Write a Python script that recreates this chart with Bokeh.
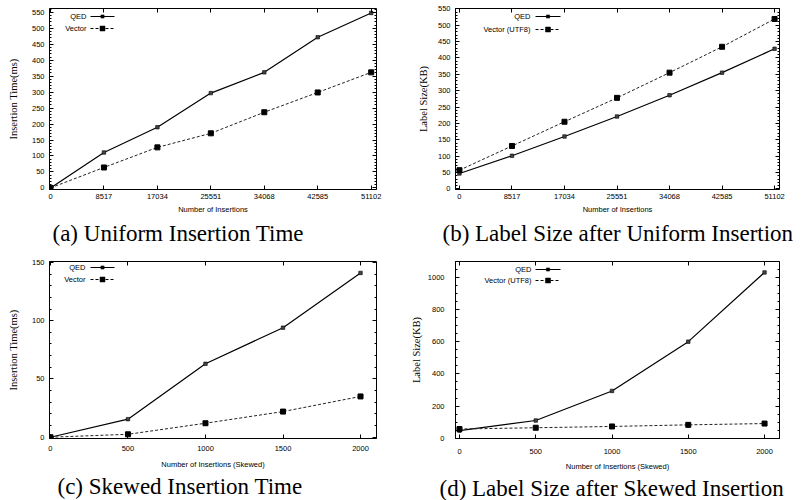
from bokeh.plotting import figure
from bokeh.models import (Range1d, LinearAxis, FixedTicker, SingleIntervalTicker,
                          Title, Label, Arrow, BoxAnnotation)
from bokeh.layouts import gridplot
from bokeh.embed import file_html
from bokeh.resources import INLINE

# ---------------- data ----------------
x_uniform = [0, 8517, 17034, 25551, 34068, 42585, 51102]
time_qed_uniform = [0, 111, 190, 297, 362, 472, 548]
time_vec_uniform = [0, 64, 127, 171, 237, 299, 362]
size_qed_uniform = [47, 101, 160, 221, 286, 355, 428]
size_vec_uniform = [57, 131, 205, 278, 355, 434, 519]

x_skewed = [0, 500, 1000, 1500, 2000]
time_qed_skewed = [0, 15.5, 63, 94, 141]
time_vec_skewed = [0, 2.5, 12, 22, 35]
size_qed_skewed = [47, 110, 294, 601, 1032]
size_vec_skewed = [57, 65, 73, 83, 91]

SANS = "Liberation Sans"
SERIF = "Liberation Serif"


def style_axis(ax, standoff, label_standoff=6, hidden=False):
    ax.axis_line_color = None if hidden else "black"
    ax.major_tick_in = 4
    ax.major_tick_out = 0
    ax.minor_tick_in = 2
    ax.minor_tick_out = 0
    ax.major_tick_line_color = "black"
    ax.minor_tick_line_color = "black"
    ax.major_label_standoff = standoff
    if hidden:
        ax.major_label_text_color = None
        ax.major_label_text_font_size = "1px"
        ax.major_label_standoff = 0
    else:
        ax.major_label_text_font = SANS
        ax.major_label_text_font_size = "7.5px"
        ax.major_label_text_color = "black"
        ax.axis_label_standoff = label_standoff


def add_key(p, frame_h, names, text_right, rows, sample_x0, sample_x1):
    """gnuplot-style key: text right-aligned, then a line sample with a marker."""
    styles = [dict(line_width=1.2, line_dash="solid", msize=1.6),
              dict(line_width=1.0, line_dash="3 2", msize=2.5)]
    for name, row, st in zip(names, rows, styles):
        y = frame_h - row
        p.add_layout(Label(x=text_right, y=y, x_units="screen", y_units="screen",
                           text=name, text_align="right", text_baseline="middle",
                           text_font=SANS, text_font_size="7.5px", text_color="black"))
        p.add_layout(Arrow(start=None, end=None, x_start=sample_x0, y_start=y,
                           x_end=sample_x1, y_end=y, start_units="screen",
                           end_units="screen", line_color="black",
                           line_width=st["line_width"], line_dash=st["line_dash"]))
        cx = (sample_x0 + sample_x1) / 2
        m = st["msize"]
        p.add_layout(BoxAnnotation(left=cx - m, right=cx + m, bottom=y - m, top=y + m,
                                   left_units="screen", right_units="screen",
                                   bottom_units="screen", top_units="screen",
                                   fill_color="black", fill_alpha=1,
                                   line_color="black", line_alpha=1, line_width=0.5))


def panel(width, height, borders, xr, yr, xticks, yinterval, yminor,
          xlabel, ylabel, xs, y_qed, y_vec, vec_name, caption,
          ystand, ylabstand, xstand, xlabstand, key, cap_offset, cap_standoff):
    left, right, top, bottom = borders
    frame_h = height - top - bottom
    p = figure(width=width, height=height, output_backend="svg",
               toolbar_location=None, x_range=Range1d(*xr), y_range=Range1d(*yr),
               min_border_left=left, min_border_right=right,
               min_border_top=top, min_border_bottom=bottom,
               x_axis_type=None, y_axis_type=None)
    p.outline_line_color = "black"
    p.outline_line_width = 1
    p.grid.visible = False
    p.background_fill_color = "white"
    p.border_fill_color = "white"

    xb = LinearAxis(ticker=FixedTicker(ticks=xticks), axis_label=xlabel)
    style_axis(xb, xstand, xlabstand)
    xb.axis_label_text_font = SANS
    xb.axis_label_text_font_size = "7.5px"
    xb.axis_label_text_font_style = "normal"
    xb.axis_label_text_color = "black"
    p.add_layout(xb, "below")

    yl = LinearAxis(ticker=SingleIntervalTicker(interval=yinterval, num_minor_ticks=yminor),
                    axis_label=ylabel)
    style_axis(yl, ystand, ylabstand)
    yl.axis_label_text_font = SERIF
    yl.axis_label_text_font_size = "10.5px"
    yl.axis_label_text_font_style = "normal"
    yl.axis_label_text_color = "black"
    p.add_layout(yl, "left")

    xa = LinearAxis(ticker=FixedTicker(ticks=xticks))
    style_axis(xa, 0, hidden=True)
    p.add_layout(xa, "above")
    yrr = LinearAxis(ticker=SingleIntervalTicker(interval=yinterval, num_minor_ticks=yminor))
    style_axis(yrr, 0, hidden=True)
    p.add_layout(yrr, "right")

    p.line(xs, y_qed, line_color="black", line_width=1.2)
    p.scatter(xs, y_qed, marker="square", size=3.5, fill_color="#444444",
              line_color="black", line_width=0.6)
    p.line(xs, y_vec, line_color="#222222", line_width=1, line_dash="3 2")
    p.scatter(xs, y_vec, marker="square", size=5, fill_color="black",
              line_color="black")

    text_right, rows, sx0, sx1 = key
    add_key(p, frame_h, ["QED", vec_name], text_right, rows, sx0, sx1)

    t = Title(text=caption, align="left", offset=cap_offset, standoff=cap_standoff,
              text_font=SERIF, text_font_size="23px", text_font_style="normal",
              text_color="black")
    p.add_layout(t, "below")
    return p


pa = panel(400, 250, (49, 24, 8, 61), (-160, 51950), (-5, 562), x_uniform, 50, 5,
           "Number of Insertions", "Insertion Time(ms)", x_uniform,
           time_qed_uniform, time_vec_uniform, "Vector", "(a) Uniform Insertion Time",
           5, 10, 4, 3, (37, (8, 20), 41, 65), 3, 4)
pb = panel(406, 250, (50, 27, 7, 61), (-640, 51900), (-2, 551), x_uniform, 50, 5,
           "Number of Insertions", "Label Size(KB)", x_uniform,
           size_qed_uniform, size_vec_uniform, "Vector (UTF8)",
           "(b) Label Size after Uniform Insertion",
           5, 6, 4, 3, (75, (9, 22), 80, 105), -13, 4)
pc = panel(400, 250, (49, 24, 9, 60), (-6, 2103), (-1.1, 150.8), x_skewed, 50, 5,
           "Number of Insertions (Skewed)", "Insertion Time(ms)", x_skewed,
           time_qed_skewed, time_vec_skewed, "Vector", "(c) Skewed Insertion Time",
           5, 10, 7, 6, (36, (10, 22), 41, 65), 8, 1)
pd = panel(406, 250, (55, 26, 11, 61), (-26, 2098), (-2, 1100), x_skewed, 200, 4,
           "Number of Insertions (Skewed)", "Label Size(KB)", x_skewed,
           size_qed_skewed, size_vec_skewed, "Vector (UTF8)",
           "(d) Label Size after Skewed Insertion",
           11, 3, 10, 5, (76, (9, 20), 80, 105), -16, 0)

grid = gridplot([[pa, pb], [pc, pd]], toolbar_location=None)

open("out.html", "w").write(file_html(grid, INLINE))
